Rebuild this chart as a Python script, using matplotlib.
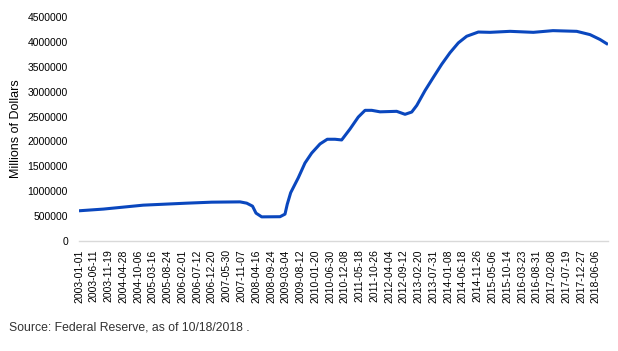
import matplotlib
matplotlib.use("Agg")
import matplotlib.pyplot as plt
import numpy as np
from datetime import datetime

plt.rcParams['font.family'] = ['Liberation Sans', 'DejaVu Sans']

# readings (weekly series, Fed securities held)
dates = ["2003-01-01", "2003-09-23", "2004-12-01", "2006-03-20", "2006-12-18",
         "2007-10-23", "2008-01-04", "2008-03-07", "2008-04-14", "2008-06-15",
         "2009-01-01", "2009-02-24", "2009-03-21", "2009-04-27", "2009-07-19",
         "2009-09-30", "2009-12-12", "2010-03-13", "2010-05-31", "2010-08-23",
         "2010-11-04", "2011-02-03", "2011-05-04", "2011-07-17", "2011-09-28",
         "2011-12-27", "2012-06-26", "2012-09-25", "2012-12-07", "2013-01-31",
         "2013-05-01", "2013-07-30", "2013-10-30", "2014-01-28", "2014-04-29",
         "2014-07-29", "2014-12-03", "2015-04-10", "2015-11-14", "2016-07-25",
         "2017-02-24", "2017-11-10", "2018-04-04", "2018-07-22", "2018-10-17"]
values = [607000, 641000, 720000, 760000, 780000,
          786000, 760000, 700000, 560000, 485000,
          488000, 540000, 740000, 970000, 1270000,
          1567000, 1766000, 1950000, 2044000, 2044000,
          2030000, 2250000, 2490000, 2625000, 2625000,
          2595000, 2605000, 2545000, 2591000, 2724000,
          3022000, 3286000, 3551000, 3782000, 3980000,
          4113000, 4198000, 4192000, 4212000, 4192000,
          4226000, 4212000, 4146000, 4048000, 3948000]

tick_labels = ["2003-01-01", "2003-06-11", "2003-11-19", "2004-04-28", "2004-10-06",
               "2005-03-16", "2005-08-24", "2006-02-01", "2006-07-12", "2006-12-20",
               "2007-05-30", "2007-11-07", "2008-04-16", "2008-09-24", "2009-03-04",
               "2009-08-12", "2010-01-20", "2010-06-30", "2010-12-08", "2011-05-18",
               "2011-10-26", "2012-04-04", "2012-09-12", "2013-02-20", "2013-07-31",
               "2014-01-08", "2014-06-18", "2014-11-26", "2015-05-06", "2015-10-14",
               "2016-03-23", "2016-08-31", "2017-02-08", "2017-07-19", "2017-12-27",
               "2018-06-06"]

x = [datetime.strptime(d, "%Y-%m-%d") for d in dates]
ticks = [datetime.strptime(d, "%Y-%m-%d") for d in tick_labels]

fig = plt.figure(figsize=(6.18, 3.51), dpi=100)
ax = fig.add_axes([79/618, 1 - 241/351, 529/618, 224/351])

ax.plot(x, values, color='#0A47BE', lw=2.2, solid_capstyle='butt')

ax.set_xlim(x[0], x[-1])
ax.set_ylim(0, 4500000)
ax.set_yticks(np.arange(0, 4500001, 500000))
ax.set_yticklabels([str(v) for v in range(0, 4500001, 500000)])
ax.set_xticks(ticks)
ax.set_xticklabels(tick_labels, rotation=90)

for s in ['top', 'right', 'left']:
    ax.spines[s].set_visible(False)
ax.spines['bottom'].set_color('#D9D9D9')
ax.spines['bottom'].set_linewidth(1)
ax.tick_params(axis='both', length=0, labelsize=7.5, colors='black')
ax.tick_params(axis='y', pad=8)
ax.tick_params(axis='x', pad=6)

ax.set_ylabel('Millions of Dollars', fontsize=9, color='black')
ax.yaxis.set_label_coords(-0.108, 0.5)

fig.text(9/618, 1 - 327/351, 'Source: Federal Reserve, as of 10/18/2018 .',
         fontsize=8.8, color='#333333', va='center', ha='left')

fig.savefig('out.png', dpi=100)
